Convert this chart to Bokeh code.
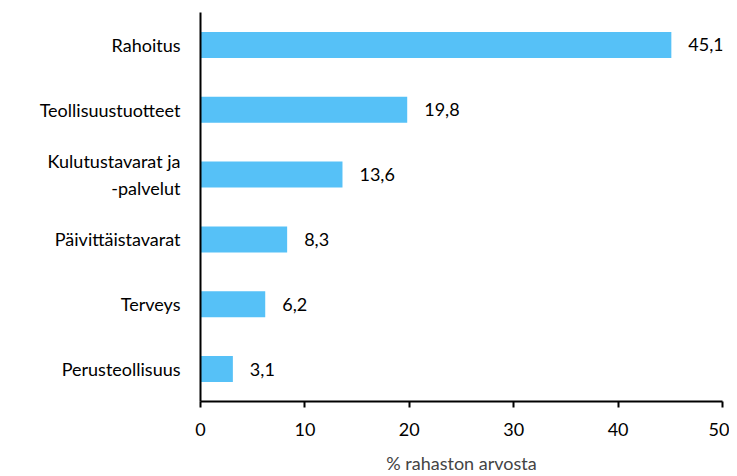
from bokeh.plotting import figure
from bokeh.models import ColumnDataSource, Range1d, FixedTicker
from bokeh.core.properties import value
from bokeh.embed import file_html
from bokeh.resources import INLINE

categories = ["Rahoitus", "Teollisuustuotteet", "Kulutustavarat ja\n-palvelut",
              "Päivittäistavarat", "Terveys", "Perusteollisuus"]
values = [45.1, 19.8, 13.6, 8.3, 6.2, 3.1]
x_ticks = [0, 10, 20, 30, 40, 50]
x_label = "% rahaston arvosta"

labels = [f"{v:.1f}".replace(".", ",") for v in values]
src = ColumnDataSource(dict(cat=categories, val=values, lab=labels))

FONT = "Lato"
FS = "18px"
p = figure(width=729, height=476, y_range=list(reversed(categories)),
           x_range=Range1d(0, 50), output_backend="svg", toolbar_location=None,
           min_border_left=200, min_border_right=7, min_border_top=12, min_border_bottom=73)
p.hbar(y="cat", right="val", left=0, height=0.4, source=src, color="#56C1F7", line_color=None)
p.text(x="val", y="cat", text="lab", source=src, x_offset=17, text_align="left",
       text_baseline="middle", text_font=value(FONT), text_font_size=FS, text_color="#000000")

p.y_range.range_padding = 0
p.outline_line_color = None
p.grid.grid_line_color = None

p.xaxis.ticker = FixedTicker(ticks=x_ticks)
p.xaxis.axis_label = x_label
p.xaxis.axis_label_text_font = FONT
p.xaxis.axis_label_text_font_style = "normal"
p.xaxis.axis_label_text_font_size = FS
p.xaxis.axis_label_standoff = 13
p.xaxis.major_label_text_font = FONT
p.xaxis.major_label_text_font_size = FS
p.xaxis.major_label_text_color = "#000000"
p.xaxis.major_tick_in = 0
p.xaxis.major_tick_out = 6
p.xaxis.minor_tick_line_color = None
p.xaxis.axis_line_width = 2
p.xaxis.axis_line_color = "#000000"
p.xaxis.major_tick_line_width = 2
p.xaxis.major_tick_line_color = "#000000"
p.xaxis.major_label_standoff = 15

p.yaxis.major_label_text_font = FONT
p.yaxis.major_label_text_font_size = FS
p.yaxis.major_label_text_color = "#000000"
p.yaxis.major_tick_line_color = None
p.yaxis.minor_tick_line_color = None
p.yaxis.axis_line_width = 2
p.yaxis.axis_line_color = "#000000"
p.yaxis.major_label_standoff = 14
p.yaxis.major_label_text_align = "center"

open("out.html", "w").write(file_html(p, INLINE))
